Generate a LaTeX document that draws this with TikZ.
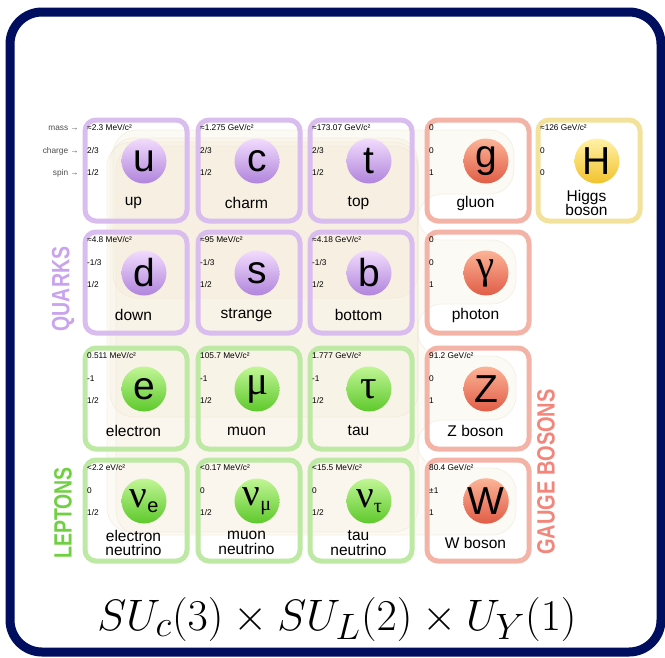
\documentclass[tikz,border=0pt]{standalone}
\usepackage{fontspec}
\newfontfamily\sans{Liberation Sans}
\newfontfamily\serifg{Liberation Serif}
\definecolor{navy}{HTML}{000E5F}
\definecolor{qborder}{HTML}{D9BDEF}
\definecolor{qtop}{HTML}{F2DCFD}
\definecolor{qbot}{HTML}{B084DC}
\definecolor{lborder}{HTML}{BDE9A4}
\definecolor{ltop}{HTML}{C2F696}
\definecolor{lbot}{HTML}{5EC82C}
\definecolor{bborder}{HTML}{F3B3A6}
\definecolor{btop}{HTML}{FBB497}
\definecolor{bbot}{HTML}{E15C46}
\definecolor{hborder}{HTML}{F3E29C}
\definecolor{htop}{HTML}{FFF2A6}
\definecolor{hbot}{HTML}{F2C22C}
\definecolor{bgbeige}{HTML}{F3E7CC}
\definecolor{bgline}{HTML}{EDE4D0}
\definecolor{labgray}{HTML}{4D4D4D}
\definecolor{quarkl}{HTML}{C9A3EC}
\definecolor{leptonl}{HTML}{70CF42}
\definecolor{bosonl}{HTML}{F3857A}
\tikzset{
  cellbox/.style={line width=5pt, rounded corners=11pt, minimum width=102pt,
    minimum height=101pt, anchor=north west, inner sep=0pt},
  small/.style={font=\sans\fontsize{8.3}{9}\selectfont, anchor=west, inner sep=0pt},
  pname/.style={font=\sans\fontsize{15.5}{14.5}\selectfont, align=center, inner sep=0pt},
  partc/.style={circle, minimum size=45pt, inner sep=0pt, shading angle=45,
    font=\sans\fontsize{39}{39}\selectfont},
  bg/.style={fill=bgbeige, fill opacity=0.18, draw=bgline, draw opacity=0.5,
    line width=0.7pt, rounded corners=24pt},
  sidelab/.style={rotate=90, font=\sans\bfseries\fontsize{25}{25}\selectfont, inner sep=0pt},
}
\newcommand\Pcell[9]{%
  \node[cellbox, draw=#4border] (#1) at (#2+2.5,#3+2.5) {};
  \node[partc, top color=#4top, bottom color=#4bot] (#1-sym) at (#2+64,#3+46) {#8};
  \node[small] (#1-mass) at (#2+7,#3+13) {#5};
  \node[small] (#1-charge) at (#2+7,#3+36) {#6};
  \node[small] (#1-spin) at (#2+7,#3+58) {#7};
  \node[pname] (#1-name) at (#2+53.5,#3+88) {#9};
}
\newcommand\nus[1]{{\serifg ν}{\fontsize{20}{20}\selectfont\raisebox{-5pt}{#1}}}
\newcommand\gr[1]{{\serifg\fontsize{41}{41}\selectfont #1}}
\begin{document}
\begin{tikzpicture}[x=1pt,y=-1pt]
\useasboundingbox (0,0) rectangle (665,657);
\fill[white] (0,0) rectangle (665,657);
% faint interaction regions
\path[bg] (113,130) -- (514,130) -- (514,194) -- (418,194) -- (418,298) -- (113,298) -- cycle;
\path[bg] (110,138) -- (418,138) -- (418,240) -- (516,240) -- (516,304) -- (418,304) -- (418,417) -- (110,417) -- cycle;
\path[bg] (107,142) -- (418,142) -- (418,356) -- (516,356) -- (516,420) -- (418,420) -- (418,532) -- (107,532) -- cycle;
\path[bg] (116,146) -- (418,146) -- (418,468) -- (516,468) -- (516,535) -- (116,535) -- cycle;
% frame
\draw[line width=9pt, draw=navy, rounded corners=32pt] (10,12) rectangle (661,652);
% row labels
\node[small, anchor=east, text=labgray] (lab-mass) at (79,128) {mass →};
\node[small, anchor=east, text=labgray] (lab-charge) at (79,151) {charge →};
\node[small, anchor=east, text=labgray] (lab-spin) at (79,173) {spin →};
% row 1
\Pcell{u}{80}{115}{q}{≈2.3 MeV/c²}{2/3}{1/2}{u}{up}
\Pcell{c}{193}{115}{q}{≈1.275 GeV/c²}{2/3}{1/2}{c}{charm}
\Pcell{t}{305}{115}{q}{≈173.07 GeV/c²}{2/3}{1/2}{t}{top}
\Pcell{g}{422}{115}{b}{0}{0}{1}{g}{gluon}
\Pcell{H}{533}{115}{h}{≈126 GeV/c²}{0}{0}{H}{Higgs\\boson}
% row 2
\Pcell{d}{80}{227}{q}{≈4.8 MeV/c²}{-1/3}{1/2}{d}{down}
\Pcell{s}{193}{227}{q}{≈95 MeV/c²}{-1/3}{1/2}{s}{strange}
\Pcell{b}{305}{227}{q}{≈4.18 GeV/c²}{-1/3}{1/2}{b}{bottom}
\Pcell{gamma}{422}{227}{b}{0}{0}{1}{\gr{γ}}{photon}
% row 3
\Pcell{e}{80}{343}{l}{0.511 MeV/c²}{-1}{1/2}{e}{electron}
\Pcell{mu}{193}{343}{l}{105.7 MeV/c²}{-1}{1/2}{\gr{μ}}{muon}
\Pcell{tau}{305}{343}{l}{1.777 GeV/c²}{-1}{1/2}{\gr{τ}}{tau}
\Pcell{Z}{422}{343}{b}{91.2 GeV/c²}{0}{1}{Z}{Z boson}
% row 4
\Pcell{nue}{80}{455}{l}{<2.2 eV/c²}{0}{1/2}{\nus{\sans e}}{electron\\neutrino}
\Pcell{numu}{193}{455}{l}{<0.17 MeV/c²}{0}{1/2}{\nus{\serifg μ}}{muon\\neutrino}
\Pcell{nutau}{305}{455}{l}{<15.5 MeV/c²}{0}{1/2}{\nus{\serifg τ}}{tau\\neutrino}
\Pcell{W}{422}{455}{b}{80.4 GeV/c²}{±1}{1}{W}{W boson}
% group labels
\node[sidelab, text=quarkl] (quarks) at (63,289) {\scalebox{0.78}[1]{QUARKS}};
\node[sidelab, text=leptonl] (leptons) at (63,513) {\scalebox{0.78}[1]{LEPTONS}};
\node[sidelab, text=bosonl] (bosons) at (546,472) {\scalebox{0.8}[1]{GAUGE BOSONS}};
% formula
\node[font=\fontsize{24.88}{30}\selectfont, inner sep=0pt] (formula) at (337,619) {\scalebox{1.77}{$SU_c(3)\times SU_L(2)\times U_Y(1)$}};
\end{tikzpicture}
\end{document}
